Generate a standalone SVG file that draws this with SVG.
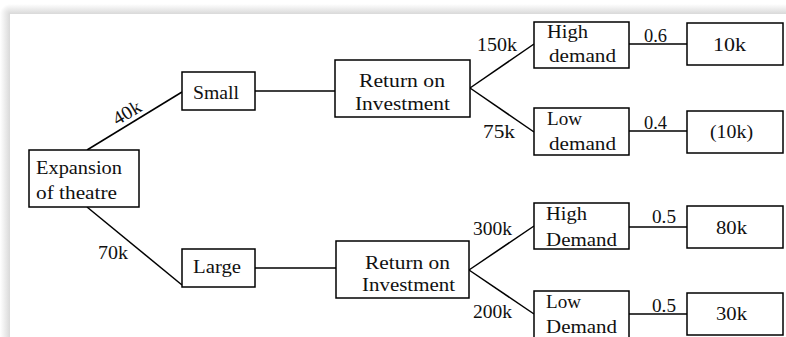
<svg xmlns="http://www.w3.org/2000/svg" width="786" height="337" viewBox="0 0 786 337">
  <defs>
    <linearGradient id="shadowTop" x1="0" y1="0" x2="0" y2="1">
      <stop offset="0" stop-color="#ffffff"/>
      <stop offset="1" stop-color="#d9d9d9"/>
    </linearGradient>
    <linearGradient id="shadowLeft" x1="0" y1="0" x2="1" y2="0">
      <stop offset="0" stop-color="#ffffff"/>
      <stop offset="1" stop-color="#d9d9d9"/>
    </linearGradient>
    <radialGradient id="shadowCorner" cx="1" cy="1" r="1">
      <stop offset="0" stop-color="#d9d9d9"/>
      <stop offset="1" stop-color="#ffffff"/>
    </radialGradient>
  </defs>
  <style>
    .box { fill: #ffffff; stroke: #000000; stroke-width: 1.5; }
    .edge { stroke: #000000; stroke-width: 1.5; fill: none; }
    text { font-family: "Liberation Serif", "DejaVu Serif", serif; font-size: 19px; fill: #111111; }
    .mid { text-anchor: middle; }
  </style>

  <!-- page with soft shadow along top and left -->
  <rect x="0" y="0" width="786" height="337" fill="#ffffff"/>
  <rect x="10" y="4" width="776" height="10" fill="url(#shadowTop)"/>
  <rect x="0" y="14" width="10" height="323" fill="url(#shadowLeft)"/>
  <rect x="0" y="4" width="10" height="10" fill="url(#shadowCorner)"/>

  <!-- connectors -->
  <g id="connectors">
    <line class="edge" x1="87" y1="150" x2="182" y2="92"/>
    <line class="edge" x1="87" y1="207" x2="182" y2="285"/>
    <line class="edge" x1="255" y1="91" x2="335" y2="91"/>
    <line class="edge" x1="255" y1="268" x2="336" y2="268"/>
    <line class="edge" x1="470" y1="88" x2="534" y2="44"/>
    <line class="edge" x1="470" y1="88" x2="534" y2="132"/>
    <line class="edge" x1="469" y1="270" x2="534" y2="226"/>
    <line class="edge" x1="469" y1="270" x2="534" y2="314"/>
    <line class="edge" x1="629" y1="44" x2="687" y2="44"/>
    <line class="edge" x1="629" y1="131" x2="687" y2="131"/>
    <line class="edge" x1="629" y1="227" x2="687" y2="227"/>
    <line class="edge" x1="629" y1="314" x2="687" y2="314"/>

    <!-- connector labels -->
    <text transform="translate(127,113) rotate(-31)" x="0" y="6" class="mid" textLength="30" lengthAdjust="spacingAndGlyphs">40k</text>
    <text x="98" y="259" textLength="30" lengthAdjust="spacingAndGlyphs">70k</text>
    <text x="477" y="51" textLength="40" lengthAdjust="spacingAndGlyphs">150k</text>
    <text x="483" y="138" textLength="32" lengthAdjust="spacingAndGlyphs">75k</text>
    <text x="473" y="235" textLength="39" lengthAdjust="spacingAndGlyphs">300k</text>
    <text x="473" y="318" textLength="39" lengthAdjust="spacingAndGlyphs">200k</text>
    <text x="644" y="42" textLength="23" lengthAdjust="spacingAndGlyphs">0.6</text>
    <text x="644" y="129" textLength="23" lengthAdjust="spacingAndGlyphs">0.4</text>
    <text x="652" y="223" textLength="24" lengthAdjust="spacingAndGlyphs">0.5</text>
    <text x="652" y="312" textLength="24" lengthAdjust="spacingAndGlyphs">0.5</text>
  </g>

  <g id="expansion">
    <rect class="box" x="29" y="150" width="110" height="57"/>
    <text x="36" y="174" textLength="86" lengthAdjust="spacingAndGlyphs">Expansion</text>
    <text x="36" y="199" textLength="81" lengthAdjust="spacingAndGlyphs">of theatre</text>
  </g>

  <g id="small">
    <rect class="box" x="182" y="72" width="73" height="38"/>
    <text x="193" y="99" textLength="46" lengthAdjust="spacingAndGlyphs">Small</text>
  </g>

  <g id="large">
    <rect class="box" x="182" y="249" width="73" height="38"/>
    <text x="193" y="273" textLength="48" lengthAdjust="spacingAndGlyphs">Large</text>
  </g>

  <g id="roi-small">
    <rect class="box" x="335" y="60" width="135" height="57"/>
    <text x="359" y="87" textLength="86" lengthAdjust="spacingAndGlyphs">Return on</text>
    <text x="355" y="110" textLength="95" lengthAdjust="spacingAndGlyphs">Investment</text>
  </g>

  <g id="roi-large">
    <rect class="box" x="336" y="241" width="133" height="57"/>
    <text x="365" y="269" textLength="85" lengthAdjust="spacingAndGlyphs">Return on</text>
    <text x="362" y="291" textLength="93" lengthAdjust="spacingAndGlyphs">Investment</text>
  </g>

  <g id="high-demand-small">
    <rect class="box" x="534" y="22" width="95" height="46"/>
    <text x="547" y="38" textLength="41" lengthAdjust="spacingAndGlyphs">High</text>
    <text x="549" y="62" textLength="67" lengthAdjust="spacingAndGlyphs">demand</text>
  </g>

  <g id="low-demand-small">
    <rect class="box" x="534" y="108" width="95" height="47"/>
    <text x="547" y="125" textLength="35" lengthAdjust="spacingAndGlyphs">Low</text>
    <text x="549" y="150" textLength="67" lengthAdjust="spacingAndGlyphs">demand</text>
  </g>

  <g id="high-demand-large">
    <rect class="box" x="534" y="203" width="95" height="46"/>
    <text x="546" y="220" textLength="41" lengthAdjust="spacingAndGlyphs">High</text>
    <text x="546" y="246" textLength="71" lengthAdjust="spacingAndGlyphs">Demand</text>
  </g>

  <g id="low-demand-large">
    <rect class="box" x="534" y="291" width="95" height="54"/>
    <text x="546" y="308" textLength="35" lengthAdjust="spacingAndGlyphs">Low</text>
    <text x="546" y="333" textLength="71" lengthAdjust="spacingAndGlyphs">Demand</text>
  </g>

  <g id="payoff-high-small">
    <rect class="box" x="687" y="23" width="96" height="42"/>
    <text x="713" y="51" textLength="33" lengthAdjust="spacingAndGlyphs">10k</text>
  </g>

  <g id="payoff-low-small">
    <rect class="box" x="687" y="111" width="96" height="42"/>
    <text x="710" y="138" textLength="43" lengthAdjust="spacingAndGlyphs">(10k)</text>
  </g>

  <g id="payoff-high-large">
    <rect class="box" x="687" y="206" width="96" height="42"/>
    <text x="716" y="234" textLength="31" lengthAdjust="spacingAndGlyphs">80k</text>
  </g>

  <g id="payoff-low-large">
    <rect class="box" x="687" y="293" width="96" height="42"/>
    <text x="716" y="320" textLength="31" lengthAdjust="spacingAndGlyphs">30k</text>
  </g>
</svg>
